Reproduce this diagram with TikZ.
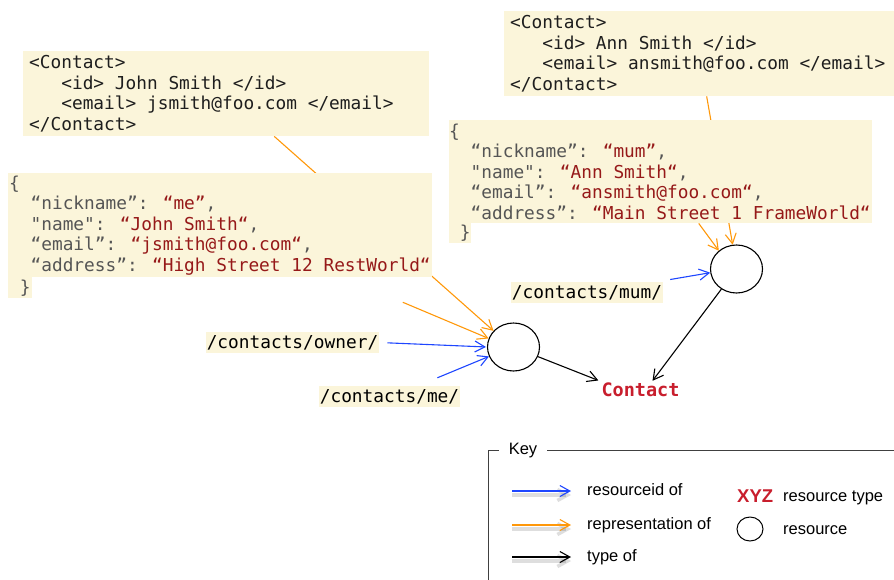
\documentclass[tikz,border=0pt]{standalone}
\usepackage{fontspec}
\setmainfont{Liberation Sans}
\newfontfamily\codefont{DejaVu Sans Mono}
\usetikzlibrary{arrows.meta,shapes.geometric,backgrounds,positioning}

\definecolor{cream}{RGB}{251,245,218}
\definecolor{xmltext}{RGB}{30,30,30}
\definecolor{jsongrey}{RGB}{85,85,85}
\definecolor{jsonred}{RGB}{150,25,25}
\definecolor{typered}{RGB}{200,30,45}
\definecolor{ridblue}{RGB}{30,70,255}
\definecolor{reporange}{RGB}{255,152,10}

\newcommand\codesize{\fontsize{17.8pt}{20.5pt}\selectfont}
\newcommand\keysize{\fontsize{16.5pt}{19pt}\selectfont}
\newcommand\jkey[1]{\textcolor{jsongrey}{#1}}
\newcommand\jval[1]{\textcolor{jsonred}{#1}}
\newcommand\ind[1]{\hphantom{#1}}

\tikzset{
  % style for the highlighted xml / json bodies
  % (full width spaces: align=left would shrink them)
  codebox/.style={fill=cream, anchor=north west, align=left, inner ysep=0pt,
    font=\codefont\codesize, text=xmltext,
    execute at begin node={\spaceskip=0pt\xspaceskip=0pt}},
  % style for the uri labels
  urlbox/.style={fill=cream, inner xsep=1pt, inner ysep=0pt,
    minimum height=21pt, font=\codefont\codesize, text=black},
  resource/.style={draw, ellipse, line width=1.1pt,
    minimum width=52pt, minimum height=48pt},
  % the three kinds of link
  link/.style={line width=1.1pt, -{Straight Barb[length=10pt,width=11pt]}},
  resourceid/.style={link, draw=ridblue},
  representation/.style={link, draw=reporange},
  typeof/.style={link, draw=black},
  keytext/.style={anchor=base west, font=\keysize, inner sep=0pt},
  % soft shadow under the arrows of the key
  keyshadow/.style={preaction={draw=black, opacity=.13, line width=3.5pt,
    transform canvas={yshift=-4pt}}},
}

\begin{document}
\begin{tikzpicture}[x=1pt,y=-1pt]
\useasboundingbox (0,0) rectangle (894,579);

% John Smith
\node[codebox, text width=394pt, inner xsep=6pt, minimum height=85pt] (xmlA) at (23,51)
  {<Contact>\\
   \ind{xxx}<id> John Smith </id>\\
   \ind{xxx}<email> jsmith@foo.com </email>\\
   </Contact>};
\node[codebox, text width=422pt, inner xsep=1pt, minimum height=104pt] (jsonA) at (8,173)
  {\jkey{\{}\\
   \ind{xx}\jkey{“nickname”: }\jval{“me”}\jkey{,}\\
   \ind{xx}\jkey{"name": }\jval{“John Smith“}\jkey{,}\\
   \ind{xx}\jkey{“email”: }\jval{“jsmith@foo.com“}\jkey{,}\\
   \ind{xx}\jkey{“address”: }\jval{“High Street 12 RestWorld“}};
\node[codebox, text width=22pt, inner xsep=1pt, minimum height=21pt] (jsonAend) at (8,277)
  {\ind{x}\jkey{\}}};

% Ann Smith
\node[codebox, text width=378pt, inner xsep=6pt, minimum height=85pt] (xmlB) at (504,11)
  {<Contact>\\
   \ind{xxx}<id> Ann Smith </id>\\
   \ind{xxx}<email> ansmith@foo.com </email>\\
   </Contact>};
\node[codebox, text width=423pt, inner xsep=0pt, minimum height=103pt] (jsonB) at (449,120)
  {\jkey{\{}\\
   \ind{xx}\jkey{“nickname”: }\jval{“mum”}\jkey{,}\\
   \ind{xx}\jkey{"name": }\jval{“Ann Smith“}\jkey{,}\\
   \ind{xx}\jkey{“email”: }\jval{“ansmith@foo.com“}\jkey{,}\\
   \ind{xx}\jkey{“address”: }\jval{“Main Street 1 FrameWorld“}};
\node[codebox, text width=22pt, inner xsep=0pt, minimum height=20pt] (jsonBend) at (449,223)
  {\ind{x}\jkey{\}}};

% resources, their uris and the type
\node[resource] (resA) at (513.5,347) {};
\node[resource] (resB) at (736.5,269) {};
\node[urlbox] (urlOwner) at (292.5,342.5) {/contacts/owner/};
\node[urlbox] (urlMe) at (389.5,396.5) {/contacts/me/};
\node[urlbox] (urlMum) at (587,292.5) {/contacts/mum/};
\node[font=\codefont\bfseries\fontsize{18.5pt}{20pt}\selectfont, text=typered, inner sep=2pt]
  (typ) at (640.5,390) {Contact};

\begin{scope}[on background layer]
\draw[representation] (xmlA) -- (resA.141);
\draw[representation, shorten <=64pt] (jsonA) -- (resA.161);
\draw[representation] (xmlB) -- (resB.99);
\draw[representation] (jsonB) -- (resB.134);
\end{scope}

\draw[resourceid, shorten <=8pt, shorten >=1pt] (urlOwner.east) -- (resA.west);
\draw[resourceid] ([xshift=-23pt,yshift=8pt]urlMe.north east) -- (resA.201);
\draw[resourceid] ([xshift=7pt,yshift=13pt]urlMum.east) -- (resB.188);
\draw[typeof, shorten >=1pt] (resA) -- (typ.north west);
\draw[typeof] (resB) -- ([xshift=12pt]typ.north);

% key
\draw[line width=.8pt, black!75] (488,450) rectangle (910,600);
\node[fill=white, inner xsep=10pt, inner ysep=2pt, font=\keysize] (key) at (523,451) {Key};

\coordinate (ridA) at (512,491);
\coordinate (ridB) at (571,491);
\coordinate (repA) at (512,525);
\coordinate (repB) at (571,525);
\coordinate (typA) at (512,557);
\coordinate (typB) at (571,557);
\draw[resourceid, keyshadow] (ridA) -- (ridB);
\draw[representation, keyshadow] (repA) -- (repB);
\draw[typeof, keyshadow] (typA) -- (typB);
\node[keytext] (ridText) at (587,495.7) {resourceid of};
\node[keytext] (repText) at (587,529.3) {representation of};
\node[keytext] (typText) at (587,561.7) {type of};

\node[keytext, font=\bfseries\fontsize{18.5pt}{20pt}\selectfont, text=typered] (xyz) at (737,502.3) {XYZ};
\node[keytext] (xyzText) at (783,501.7) {resource type};
\node[resource, minimum width=26pt, minimum height=24pt, line width=1pt] (keyRes) at (750,529) {};
\node[keytext] (keyResText) at (783,534.3) {resource};
\end{tikzpicture}
\end{document}
